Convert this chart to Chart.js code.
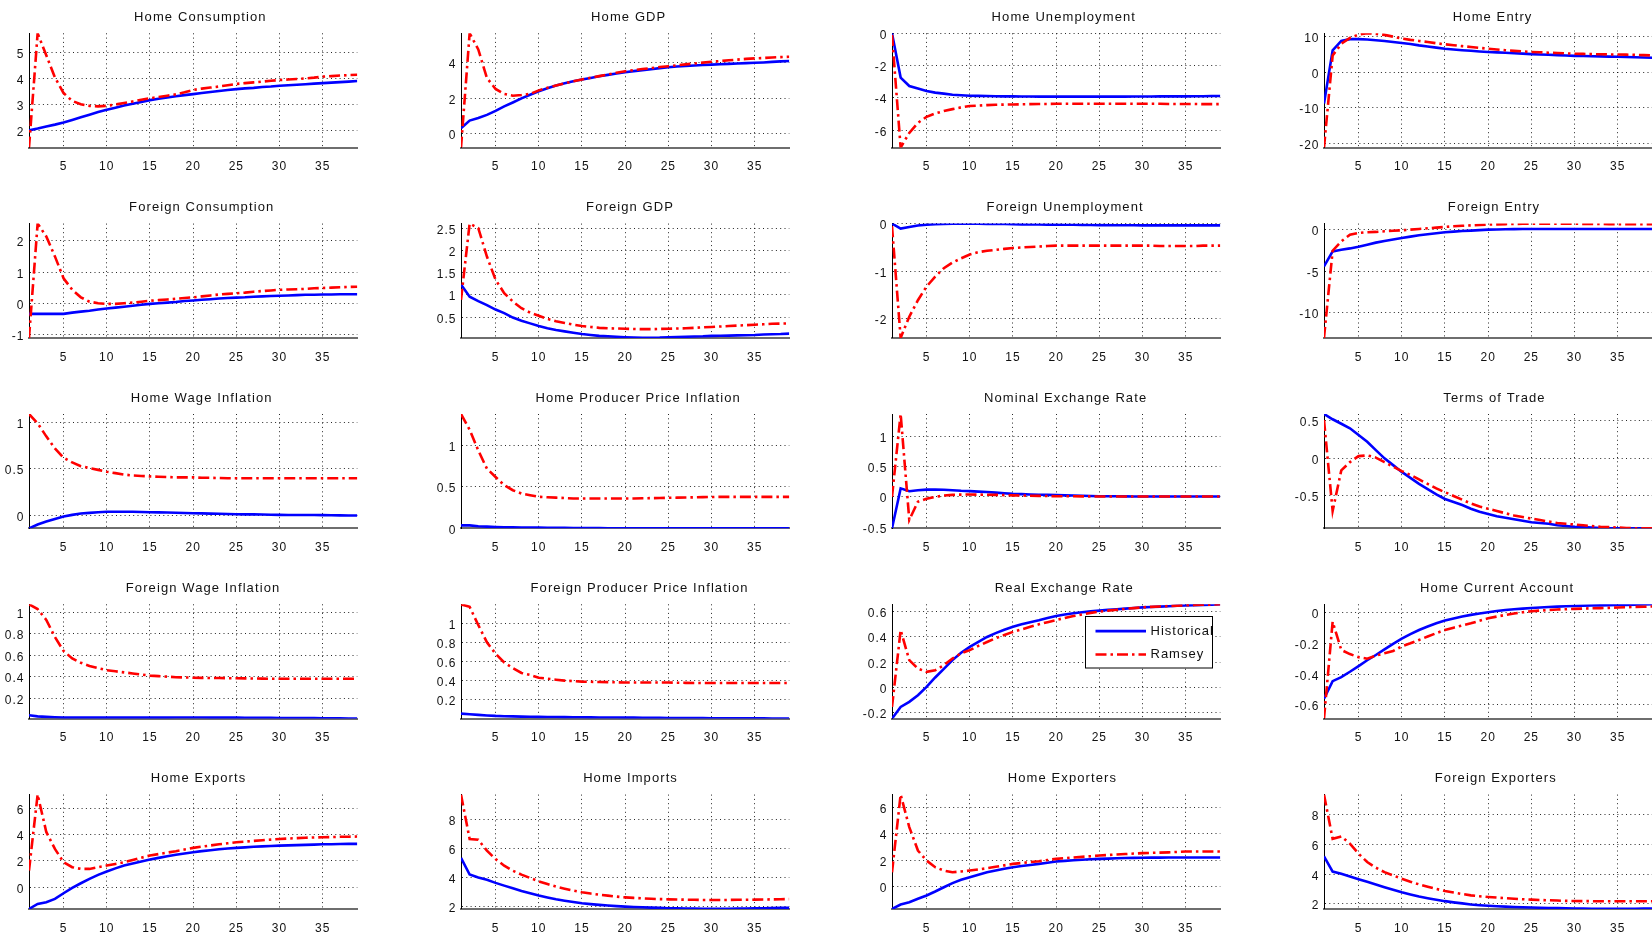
<!DOCTYPE html>
<html>
<head>
<meta charset="utf-8">
<script src="https://cdn.jsdelivr.net/npm/chart.js@4.4.1/dist/chart.umd.min.js"></script>
<style>
html, body { margin: 0; padding: 0; background: #ffffff; overflow: hidden; width: 1652px; height: 934px; }
#fig { position: relative; width: 1652px; height: 934px; overflow: hidden; background: #ffffff; }
.panel { position: absolute; }
.panel canvas { display: block; }
</style>
</head>
<body>
<div id="fig"></div>
<script>
// ---------- data ----------
const periods = [1,2,3,4,5,6,7,8,9,10,11,12,13,14,15,16,17,18,19,20,21,22,23,24,25,26,27,28,29,30,31,32,33,34,35,36,37,38,39];
const xTickValues = [5,10,15,20,25,30,35];
const seriesNames = ['Historical', 'Ramsey'];

const homeConsumptionHist = [2.02,2.09,2.17,2.24,2.32,2.42,2.52,2.62,2.72,2.81,2.89,2.97,3.04,3.11,3.18,3.23,3.28,3.33,3.37,3.41,3.45,3.49,3.53,3.57,3.60,3.63,3.65,3.68,3.70,3.73,3.75,3.77,3.79,3.81,3.83,3.85,3.87,3.89,3.91];
const homeConsumptionRamsey = [1.36,5.74,4.90,4.05,3.45,3.15,3.02,2.96,2.94,2.96,3.01,3.07,3.13,3.19,3.25,3.30,3.35,3.40,3.48,3.57,3.62,3.66,3.70,3.75,3.80,3.83,3.86,3.89,3.92,3.95,3.97,3.99,4.01,4.04,4.08,4.10,4.12,4.14,4.15];
const homeConsumptionTicks = [2,3,4,5];

const homeGdpHist = [0.32,0.75,0.89,1.07,1.30,1.55,1.77,2.00,2.20,2.40,2.57,2.72,2.85,2.96,3.06,3.15,3.24,3.32,3.40,3.47,3.53,3.59,3.64,3.70,3.75,3.79,3.82,3.85,3.88,3.90,3.92,3.94,3.96,3.98,4.00,4.02,4.05,4.08,4.10];
const homeGdpRamsey = [-0.77,5.66,4.75,3.15,2.53,2.25,2.15,2.19,2.25,2.45,2.59,2.72,2.84,2.96,3.06,3.16,3.25,3.34,3.44,3.53,3.59,3.65,3.70,3.76,3.81,3.86,3.91,3.96,4.01,4.06,4.10,4.14,4.18,4.22,4.25,4.27,4.30,4.32,4.34];
const homeGdpTicks = [0,2,4];

const homeUnempHist = [0.00,-2.74,-3.26,-3.42,-3.57,-3.67,-3.73,-3.80,-3.83,-3.86,-3.87,-3.88,-3.89,-3.90,-3.90,-3.91,-3.91,-3.92,-3.92,-3.92,-3.92,-3.92,-3.92,-3.92,-3.92,-3.92,-3.92,-3.92,-3.91,-3.91,-3.91,-3.90,-3.90,-3.90,-3.90,-3.89,-3.89,-3.88,-3.88];
const homeUnempRamsey = [-0.10,-7.07,-6.16,-5.54,-5.17,-4.96,-4.81,-4.69,-4.58,-4.50,-4.47,-4.44,-4.42,-4.41,-4.40,-4.39,-4.38,-4.37,-4.37,-4.36,-4.36,-4.36,-4.36,-4.36,-4.36,-4.36,-4.36,-4.36,-4.36,-4.36,-4.36,-4.36,-4.37,-4.37,-4.37,-4.37,-4.38,-4.38,-4.38];
const homeUnempTicks = [-6,-4,-2,0];

const homeEntryHist = [-8.8,6.15,8.8,9.3,9.3,9.2,9.0,8.8,8.5,8.23,7.92,7.55,7.25,6.93,6.6,6.4,6.2,6.02,5.85,5.7,5.58,5.46,5.35,5.22,5.1,5.0,4.9,4.8,4.7,4.6,4.55,4.5,4.45,4.4,4.35,4.28,4.2,4.13,4.07];
const homeEntryRamsey = [-21.2,4.7,8.0,9.65,10.6,10.95,10.8,10.5,10.0,9.46,9.1,8.8,8.5,8.15,7.85,7.6,7.35,7.1,6.85,6.6,6.4,6.2,6.0,5.85,5.7,5.6,5.5,5.4,5.3,5.2,5.15,5.1,5.05,5.0,5.0,4.95,4.88,4.8,4.73];
const homeEntryTicks = [-20,-10,0,10];

const foreignConsumptionHist = [-0.34,-0.34,-0.34,-0.34,-0.34,-0.30,-0.27,-0.24,-0.20,-0.17,-0.14,-0.11,-0.08,-0.05,-0.02,0.00,0.02,0.04,0.07,0.09,0.11,0.13,0.15,0.17,0.18,0.19,0.21,0.22,0.23,0.24,0.25,0.26,0.27,0.27,0.28,0.28,0.29,0.29,0.29];
const foreignConsumptionRamsey = [-1.11,2.55,2.14,1.50,0.80,0.43,0.19,0.05,0.00,-0.02,-0.02,0.00,0.02,0.05,0.08,0.10,0.12,0.14,0.17,0.19,0.22,0.25,0.28,0.30,0.32,0.34,0.37,0.39,0.41,0.43,0.44,0.45,0.46,0.48,0.49,0.50,0.51,0.52,0.53];
const foreignConsumptionTicks = [-1,0,1,2];

const foreignGdpHist = [1.23,0.96,0.86,0.77,0.67,0.59,0.49,0.42,0.36,0.30,0.25,0.21,0.18,0.15,0.12,0.10,0.08,0.07,0.06,0.05,0.04,0.034,0.036,0.04,0.05,0.055,0.06,0.065,0.07,0.08,0.083,0.086,0.09,0.095,0.10,0.11,0.115,0.12,0.13];
const foreignGdpRamsey = [0.89,2.60,2.50,1.86,1.34,1.04,0.85,0.70,0.60,0.53,0.46,0.41,0.37,0.33,0.30,0.28,0.26,0.25,0.245,0.24,0.235,0.23,0.23,0.235,0.24,0.245,0.25,0.26,0.27,0.28,0.29,0.30,0.31,0.32,0.33,0.34,0.35,0.355,0.36];
const foreignGdpTicks = [0.5,1,1.5,2,2.5];

const foreignUnempHist = [0.007,-0.10,-0.065,-0.035,-0.015,-0.005,0.0,0.003,0.005,0.005,0.004,0.002,0.0,-0.003,-0.007,-0.009,-0.011,-0.013,-0.014,-0.015,-0.017,-0.019,-0.021,-0.023,-0.025,-0.026,-0.027,-0.028,-0.029,-0.03,-0.03,-0.03,-0.03,-0.03,-0.03,-0.03,-0.03,-0.03,-0.03];
const foreignUnempRamsey = [-0.05,-2.42,-1.97,-1.62,-1.33,-1.12,-0.94,-0.82,-0.73,-0.65,-0.60,-0.57,-0.55,-0.53,-0.51,-0.50,-0.49,-0.48,-0.47,-0.46,-0.46,-0.46,-0.46,-0.46,-0.46,-0.46,-0.46,-0.46,-0.46,-0.46,-0.46,-0.47,-0.47,-0.47,-0.47,-0.47,-0.46,-0.46,-0.46];
const foreignUnempTicks = [-2,-1,0];

const foreignEntryHist = [-4.43,-2.60,-2.40,-2.24,-2.03,-1.79,-1.54,-1.34,-1.16,-0.98,-0.81,-0.65,-0.52,-0.40,-0.28,-0.20,-0.13,-0.08,-0.02,0.04,0.06,0.08,0.10,0.11,0.12,0.12,0.12,0.12,0.12,0.12,0.12,0.12,0.12,0.12,0.12,0.12,0.12,0.12,0.12];
const foreignEntryRamsey = [-13.1,-2.52,-1.38,-0.57,-0.37,-0.28,-0.24,-0.16,-0.10,-0.04,0.04,0.12,0.20,0.28,0.37,0.44,0.50,0.55,0.60,0.65,0.68,0.71,0.73,0.75,0.76,0.77,0.77,0.76,0.76,0.75,0.74,0.73,0.72,0.71,0.70,0.70,0.69,0.69,0.69];
const foreignEntryTicks = [-10,-5,0];

const homeWageInflHist = [-0.137,-0.097,-0.065,-0.036,-0.011,0.007,0.022,0.029,0.036,0.040,0.041,0.041,0.040,0.038,0.036,0.034,0.032,0.030,0.027,0.025,0.023,0.021,0.019,0.017,0.014,0.013,0.012,0.011,0.009,0.007,0.006,0.006,0.005,0.005,0.004,0.003,0.002,0.001,0.000];
const homeWageInflRamsey = [1.09,0.99,0.85,0.72,0.62,0.57,0.53,0.51,0.49,0.47,0.455,0.44,0.43,0.425,0.42,0.416,0.413,0.41,0.41,0.41,0.405,0.405,0.403,0.40,0.40,0.40,0.40,0.40,0.40,0.40,0.40,0.40,0.40,0.40,0.40,0.40,0.40,0.40,0.40];
const homeWageInflTicks = [0,0.5,1];

const homePpiHist = [0.035,0.035,0.024,0.020,0.016,0.013,0.011,0.010,0.009,0.008,0.007,0.006,0.005,0.004,0.003,0.002,0.002,0.001,0.001,0.000,0.000,0.000,0.000,0.000,0.000,0.000,0.000,0.000,0.000,0.000,0.000,0.000,0.000,0.000,0.000,0.000,0.000,0.000,0.000];
const homePpiRamsey = [1.38,1.19,0.94,0.72,0.62,0.52,0.46,0.42,0.40,0.38,0.375,0.37,0.365,0.36,0.36,0.36,0.36,0.36,0.36,0.36,0.36,0.362,0.364,0.366,0.368,0.37,0.372,0.374,0.376,0.378,0.38,0.38,0.38,0.38,0.38,0.38,0.38,0.38,0.38];
const homePpiTicks = [0,0.5,1];

const nominalErHist = [-0.52,0.14,0.094,0.11,0.12,0.12,0.118,0.11,0.10,0.094,0.087,0.08,0.07,0.06,0.05,0.045,0.04,0.036,0.032,0.028,0.025,0.022,0.018,0.014,0.011,0.01,0.009,0.008,0.007,0.006,0.005,0.005,0.005,0.005,0.005,0.005,0.005,0.005,0.005];
const nominalErRamsey = [0.0,1.37,-0.38,-0.08,-0.03,0.0,0.022,0.033,0.037,0.039,0.037,0.035,0.033,0.029,0.025,0.022,0.019,0.016,0.013,0.011,0.010,0.009,0.008,0.007,0.006,0.005,0.005,0.005,0.005,0.005,0.005,0.005,0.005,0.005,0.005,0.005,0.005,0.005,0.005];
const nominalErTicks = [-0.5,0,0.5,1];

const termsOfTradeHist = [0.59,0.52,0.46,0.40,0.31,0.22,0.11,0.00,-0.09,-0.18,-0.26,-0.34,-0.41,-0.48,-0.54,-0.58,-0.62,-0.67,-0.71,-0.74,-0.77,-0.79,-0.81,-0.83,-0.85,-0.86,-0.87,-0.89,-0.90,-0.91,-0.915,-0.92,-0.925,-0.93,-0.93,-0.93,-0.93,-0.93,-0.93];
const termsOfTradeRamsey = [0.51,-0.70,-0.16,-0.05,0.03,0.04,0.01,-0.05,-0.11,-0.17,-0.22,-0.28,-0.34,-0.40,-0.45,-0.50,-0.55,-0.60,-0.64,-0.67,-0.70,-0.73,-0.76,-0.78,-0.80,-0.82,-0.84,-0.86,-0.87,-0.88,-0.89,-0.90,-0.91,-0.915,-0.92,-0.925,-0.93,-0.93,-0.93];
const termsOfTradeTicks = [-0.5,0,0.5];

const foreignWageInflHist = [0.040,0.030,0.025,0.021,0.018,0.018,0.018,0.018,0.018,0.018,0.018,0.018,0.018,0.018,0.018,0.018,0.018,0.019,0.019,0.019,0.019,0.018,0.018,0.018,0.018,0.017,0.017,0.016,0.016,0.015,0.015,0.014,0.014,0.013,0.012,0.012,0.011,0.010,0.009];
const foreignWageInflRamsey = [1.075,1.03,0.93,0.77,0.64,0.57,0.53,0.50,0.48,0.46,0.45,0.44,0.43,0.42,0.41,0.405,0.40,0.395,0.393,0.39,0.389,0.388,0.387,0.386,0.385,0.384,0.383,0.382,0.381,0.38,0.38,0.38,0.38,0.38,0.38,0.38,0.38,0.38,0.38];
const foreignWageInflTicks = [0.2,0.4,0.6,0.8,1];

const foreignPpiHist = [0.056,0.050,0.043,0.037,0.032,0.029,0.027,0.025,0.023,0.022,0.021,0.020,0.019,0.018,0.018,0.017,0.016,0.015,0.015,0.014,0.014,0.013,0.013,0.012,0.011,0.011,0.010,0.010,0.009,0.008,0.008,0.008,0.007,0.007,0.007,0.006,0.005,0.005,0.004];
const foreignPpiRamsey = [1.196,1.17,0.98,0.80,0.68,0.59,0.53,0.48,0.46,0.43,0.42,0.41,0.40,0.395,0.39,0.388,0.386,0.384,0.382,0.38,0.38,0.38,0.38,0.38,0.38,0.378,0.377,0.376,0.375,0.375,0.375,0.375,0.375,0.375,0.375,0.375,0.375,0.375,0.375];
const foreignPpiTicks = [0.2,0.4,0.6,0.8,1];

const realErHist = [-0.245,-0.153,-0.113,-0.06,0.005,0.08,0.148,0.217,0.275,0.322,0.362,0.40,0.43,0.457,0.48,0.50,0.517,0.532,0.55,0.566,0.577,0.587,0.595,0.602,0.608,0.614,0.619,0.624,0.629,0.634,0.637,0.640,0.643,0.646,0.649,0.651,0.653,0.655,0.658];
const realErRamsey = [-0.153,0.454,0.217,0.15,0.124,0.137,0.177,0.23,0.27,0.296,0.33,0.36,0.39,0.415,0.44,0.46,0.48,0.50,0.517,0.534,0.55,0.565,0.578,0.59,0.60,0.608,0.615,0.622,0.628,0.634,0.638,0.641,0.644,0.647,0.65,0.652,0.654,0.656,0.658];
const realErTicks = [-0.2,0,0.2,0.4,0.6];

const currentAccountHist = [-0.56,-0.446,-0.42,-0.385,-0.348,-0.31,-0.276,-0.24,-0.204,-0.17,-0.14,-0.113,-0.091,-0.07,-0.052,-0.038,-0.026,-0.015,-0.006,0.002,0.01,0.017,0.022,0.026,0.03,0.033,0.036,0.039,0.041,0.043,0.045,0.046,0.047,0.048,0.049,0.050,0.052,0.053,0.054];
const currentAccountRamsey = [-0.69,-0.06,-0.243,-0.27,-0.29,-0.30,-0.28,-0.265,-0.25,-0.22,-0.20,-0.178,-0.156,-0.134,-0.113,-0.098,-0.084,-0.07,-0.053,-0.037,-0.026,-0.015,-0.006,0.002,0.009,0.013,0.017,0.02,0.022,0.024,0.026,0.028,0.029,0.031,0.033,0.035,0.037,0.038,0.04];
const currentAccountTicks = [-0.6,-0.4,-0.2,0];

const homeExportsHist = [-1.65,-1.27,-1.14,-0.89,-0.46,-0.05,0.30,0.63,0.94,1.19,1.43,1.65,1.81,1.96,2.10,2.23,2.35,2.46,2.56,2.66,2.74,2.81,2.88,2.94,2.99,3.03,3.07,3.10,3.13,3.16,3.18,3.20,3.22,3.24,3.26,3.27,3.28,3.29,3.29];
const homeExportsRamsey = [1.27,7.04,4.20,2.91,1.90,1.52,1.39,1.39,1.52,1.65,1.77,1.90,2.07,2.24,2.41,2.52,2.63,2.74,2.87,2.99,3.08,3.17,3.26,3.34,3.42,3.47,3.52,3.57,3.62,3.67,3.70,3.73,3.76,3.78,3.80,3.81,3.83,3.84,3.85];
const homeExportsTicks = [0,2,4,6];

const homeImportsHist = [5.35,4.20,4.00,3.83,3.62,3.43,3.25,3.06,2.90,2.74,2.61,2.49,2.39,2.30,2.21,2.15,2.10,2.05,2.01,1.98,1.95,1.93,1.91,1.89,1.87,1.86,1.85,1.84,1.83,1.82,1.82,1.83,1.84,1.85,1.86,1.87,1.88,1.89,1.90];
const homeImportsRamsey = [9.73,6.66,6.60,5.85,5.27,4.81,4.46,4.19,3.96,3.73,3.54,3.36,3.22,3.09,2.97,2.88,2.80,2.74,2.67,2.62,2.58,2.55,2.52,2.50,2.48,2.47,2.46,2.45,2.44,2.44,2.44,2.44,2.45,2.45,2.46,2.47,2.48,2.49,2.50];
const homeImportsTicks = [2,4,6,8];

const homeExportersHist = [-1.66,-1.33,-1.16,-0.90,-0.65,-0.35,-0.03,0.28,0.53,0.73,0.92,1.10,1.23,1.36,1.48,1.57,1.65,1.73,1.82,1.91,1.96,2.00,2.04,2.08,2.11,2.13,2.15,2.17,2.18,2.19,2.20,2.20,2.21,2.21,2.21,2.21,2.21,2.21,2.21];
const homeExportersRamsey = [1.10,6.95,4.50,2.74,1.98,1.48,1.23,1.10,1.16,1.23,1.31,1.40,1.51,1.62,1.73,1.80,1.87,1.93,2.02,2.11,2.16,2.21,2.26,2.31,2.36,2.40,2.44,2.47,2.51,2.54,2.56,2.58,2.60,2.63,2.66,2.66,2.66,2.66,2.66];
const homeExportersTicks = [0,2,4,6];

const foreignExportersHist = [5.18,4.17,4.02,3.84,3.66,3.48,3.30,3.12,2.95,2.78,2.63,2.49,2.38,2.28,2.18,2.10,2.03,1.96,1.91,1.87,1.84,1.81,1.79,1.77,1.75,1.74,1.72,1.71,1.70,1.69,1.68,1.67,1.67,1.66,1.66,1.66,1.67,1.68,1.69];
const foreignExportersRamsey = [9.34,6.37,6.53,6.04,5.37,4.81,4.43,4.13,3.91,3.69,3.49,3.31,3.15,3.00,2.86,2.76,2.66,2.57,2.51,2.46,2.42,2.38,2.34,2.31,2.28,2.26,2.24,2.22,2.20,2.19,2.18,2.18,2.17,2.17,2.17,2.17,2.17,2.17,2.17];
const foreignExportersTicks = [2,4,6,8];

const panelTitles = [
  'Home Consumption', 'Home GDP', 'Home Unemployment', 'Home Entry',
  'Foreign Consumption', 'Foreign GDP', 'Foreign Unemployment', 'Foreign Entry',
  'Home Wage Inflation', 'Home Producer Price Inflation', 'Nominal Exchange Rate', 'Terms of Trade',
  'Foreign Wage Inflation', 'Foreign Producer Price Inflation', 'Real Exchange Rate', 'Home Current Account',
  'Home Exports', 'Home Imports', 'Home Exporters', 'Foreign Exporters'
];
const histSeries = [homeConsumptionHist, homeGdpHist, homeUnempHist, homeEntryHist,
  foreignConsumptionHist, foreignGdpHist, foreignUnempHist, foreignEntryHist,
  homeWageInflHist, homePpiHist, nominalErHist, termsOfTradeHist,
  foreignWageInflHist, foreignPpiHist, realErHist, currentAccountHist,
  homeExportsHist, homeImportsHist, homeExportersHist, foreignExportersHist];
const ramseySeries = [homeConsumptionRamsey, homeGdpRamsey, homeUnempRamsey, homeEntryRamsey,
  foreignConsumptionRamsey, foreignGdpRamsey, foreignUnempRamsey, foreignEntryRamsey,
  homeWageInflRamsey, homePpiRamsey, nominalErRamsey, termsOfTradeRamsey,
  foreignWageInflRamsey, foreignPpiRamsey, realErRamsey, currentAccountRamsey,
  homeExportsRamsey, homeImportsRamsey, homeExportersRamsey, foreignExportersRamsey];
const yTickSets = [homeConsumptionTicks, homeGdpTicks, homeUnempTicks, homeEntryTicks,
  foreignConsumptionTicks, foreignGdpTicks, foreignUnempTicks, foreignEntryTicks,
  homeWageInflTicks, homePpiTicks, nominalErTicks, termsOfTradeTicks,
  foreignWageInflTicks, foreignPpiTicks, realErTicks, currentAccountTicks,
  homeExportsTicks, homeImportsTicks, homeExportersTicks, foreignExportersTicks];
const legendPanel = 'Real Exchange Rate';

// ---------- layout / style ----------
const COL_LEFT = [29, 461, 892, 1324];
const ROW_TOP = [33.3, 223.6, 414, 604.3, 794.6];
const AXIS_W = 29, PLOT_W = 328.3, PLOT_H = 114.3, CANVAS_W = 362, CANVAS_H = 185;
const FONT_FAMILY = "'Liberation Sans', Arial, Helvetica, sans-serif";
const TEXT_COLOR = '#111111';

const spacingPlugin = {
  id: 'matlabSpacing',
  beforeDraw(chart) { chart.ctx.letterSpacing = '1px'; }
};

const titlePlugin = {
  id: 'panelTitle',
  afterDraw(chart, args, opts) {
    if (!opts || !opts.text) return;
    const ctx = chart.ctx, a = chart.chartArea;
    ctx.save();
    ctx.letterSpacing = '1.1px';
    ctx.font = '13px ' + FONT_FAMILY;
    ctx.fillStyle = TEXT_COLOR;
    ctx.textAlign = 'center';
    ctx.textBaseline = 'middle';
    ctx.fillText(opts.text, (a.left + a.right) / 2 + opts.shift * opts.text.length, a.top - opts.above);
    ctx.restore();
  }
};

const legendPlugin = {
  id: 'boxLegend',
  afterDatasetsDraw(chart, args, opts) {
    if (!opts || !opts.display) return;
    const ctx = chart.ctx, a = chart.chartArea;
    const x = Math.round(a.left + opts.left) + 0.5, y = Math.round(a.top + opts.top) + 0.5;
    ctx.save();
    ctx.fillStyle = '#ffffff';
    ctx.fillRect(x, y, opts.width, opts.height);
    ctx.strokeStyle = '#000000';
    ctx.lineWidth = 1;
    ctx.setLineDash([]);
    ctx.strokeRect(x, y, opts.width, opts.height);
    const order = [0, 1];
    order.forEach((di, k) => {
      const ds = chart.data.datasets[di];
      const ly = y + opts.rows[k];
      ctx.beginPath();
      ctx.strokeStyle = ds.borderColor;
      ctx.lineWidth = ds.borderWidth;
      ctx.setLineDash(ds.borderDash || []);
      ctx.moveTo(x + opts.lineFrom, ly);
      ctx.lineTo(x + opts.lineTo, ly);
      ctx.stroke();
      ctx.setLineDash([]);
      ctx.letterSpacing = '1px';
      ctx.font = '13px ' + FONT_FAMILY;
      ctx.fillStyle = TEXT_COLOR;
      ctx.textAlign = 'left';
      ctx.textBaseline = 'middle';
      ctx.fillText(ds.label, x + opts.textX, ly);
    });
    ctx.restore();
  }
};

const fig = document.getElementById('fig');

panelTitles.forEach((title, i) => {
  const r = Math.floor(i / 4), c = i % 4;
  const left = COL_LEFT[c] - AXIS_W;
  const top = Math.round(ROW_TOP[r] - 33.3);
  const titleBlock = ROW_TOP[r] - top;
  const xAxisH = CANVAS_H - titleBlock - PLOT_H;
  const hist = histSeries[i], ramsey = ramseySeries[i], yTicks = yTickSets[i];
  const yMin = Math.min(...hist, ...ramsey);
  const yMax = Math.max(...hist, ...ramsey);

  const div = document.createElement('div');
  div.className = 'panel';
  div.style.left = left + 'px';
  div.style.top = top + 'px';
  const cv = document.createElement('canvas');
  cv.width = CANVAS_W; cv.height = CANVAS_H;
  cv.style.width = CANVAS_W + 'px'; cv.style.height = CANVAS_H + 'px';
  div.appendChild(cv);
  fig.appendChild(div);

  const tickFont = { family: FONT_FAMILY, size: 12 };
  new Chart(cv, {
    type: 'line',
    data: {
      datasets: [
        { label: seriesNames[0], data: periods.map((p, k) => ({ x: p, y: hist[k] })),
          borderColor: '#0000ff', borderWidth: 2.6, pointRadius: 0, tension: 0, fill: false, order: 1 },
        { label: seriesNames[1], data: periods.map((p, k) => ({ x: p, y: ramsey[k] })),
          borderColor: '#ff0000', borderWidth: 2.6, borderDash: [11, 4, 2.5, 4], pointRadius: 0, tension: 0, fill: false, order: 0 }
      ]
    },
    options: {
      responsive: false,
      animation: false,
      devicePixelRatio: 1,
      events: [],
      layout: { padding: { top: titleBlock, left: 0, right: CANVAS_W - AXIS_W - PLOT_W, bottom: 0 } },
      plugins: {
        legend: { display: false },
        tooltip: { enabled: false },
        title: { display: false },
        panelTitle: { text: title, shift: 0.45, above: 16 },
        boxLegend: title === legendPanel
          ? { display: true, left: 193, top: 11.4, width: 127, height: 51.5, rows: [14.6, 38], lineFrom: 10, lineTo: 60.5, textX: 65 }
          : { display: false }
      },
      scales: {
        x: {
          type: 'linear', min: periods[0], max: periods[periods.length - 1],
          afterBuildTicks: (s) => { s.ticks = xTickValues.map(v => ({ value: v })); },
          afterFit: (s) => { s.height = xAxisH; },
          grid: { color: 'rgba(0,0,0,0.85)', lineWidth: 1, drawTicks: false },
          border: { display: true, color: '#6e6e6e', width: 2, dash: [1, 3.3] },
          ticks: { font: tickFont, color: TEXT_COLOR, padding: 12.3, autoSkip: false, maxRotation: 0,
                   callback: (v) => String(v) }
        },
        y: {
          type: 'linear', min: yMin, max: yMax,
          afterBuildTicks: (s) => { s.ticks = yTicks.map(v => ({ value: v })); },
          afterFit: (s) => { s.width = AXIS_W; },
          grid: { color: 'rgba(0,0,0,0.85)', lineWidth: 1, drawTicks: false },
          border: { display: true, color: '#000000', width: 1, dash: [1, 3.3] },
          ticks: { font: tickFont, color: TEXT_COLOR, padding: 4.5, labelOffset: 2.2, autoSkip: false,
                   callback: (v) => String(v) }
        }
      }
    },
    plugins: [spacingPlugin, titlePlugin, legendPlugin]
  });
});
</script>
</body>
</html>
